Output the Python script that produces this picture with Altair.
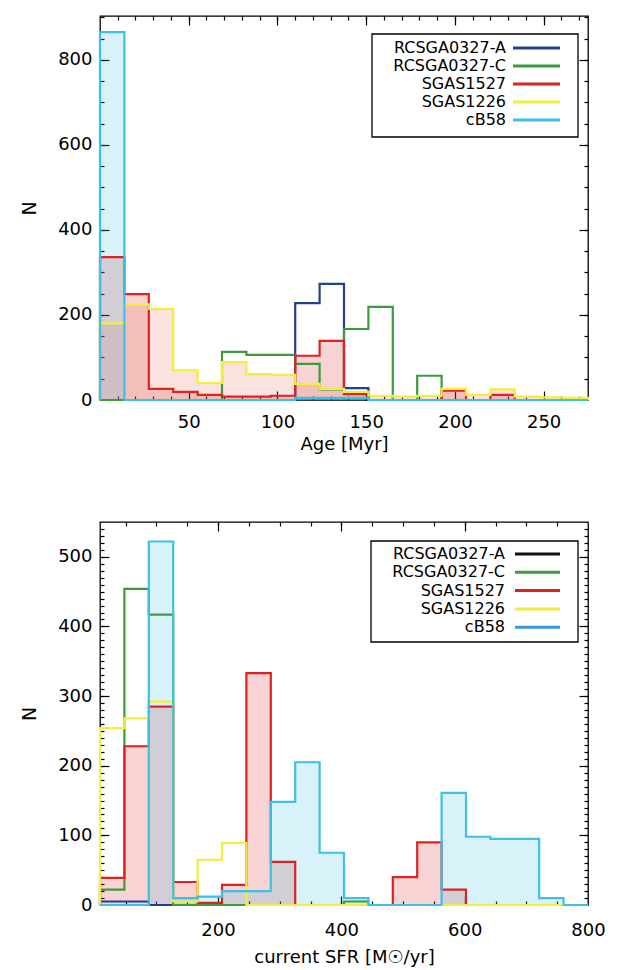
import altair as alt
import pandas as pd

FONT = "DejaVu Sans"

# ---------------- top panel: Age histogram ----------------
age_lo, age_hi, age_nbins = 0.0, 275.0, 20
age_names = ["RCSGA0327-A", "RCSGA0327-C", "SGAS1527", "SGAS1226", "cB58"]
age_colors = ["#23408e", "#3d9a3d", "#dd2222", "#f2ee3a", "#3ec0e6"]
age_hatch = ["#23408e", "#3d9a3d", "#dd2222", "#e87060", "#3ec0e6"]
age_RCSGA0327A = [0, 0, 0, 0, 0, 0, 0, 0, 228, 273, 28, 0, 0, 0, 0, 0, 0, 0, 0, 0]
age_RCSGA0327C = [0, 0, 0, 0, 0, 113, 106, 106, 85, 25, 167, 219, 0, 57, 0, 0, 0, 0, 0, 0]
age_SGAS1527 = [336, 249, 26, 19, 12, 8, 8, 10, 104, 139, 14, 0, 0, 0, 22, 0, 12, 0, 0, 0]
age_SGAS1226 = [180, 225, 214, 70, 40, 89, 61, 59, 38, 26, 19, 10, 8, 10, 26, 12, 25, 8, 6, 5]
age_cB58 = [865, 0, 0, 0, 0, 0, 0, 0, 5, 5, 5, 0, 0, 0, 0, 0, 0, 0, 0, 0]
age_xlabels = [50, 100, 150, 200, 250]
age_ylabels = [0, 200, 400, 600, 800]

# ---------------- bottom panel: current SFR histogram ----------------
sfr_lo, sfr_hi, sfr_nbins = 8.6, 800.0, 20
sfr_names = ["RCSGA0327-A", "RCSGA0327-C", "SGAS1527", "SGAS1226", "cB58"]
sfr_colors = ["#111111", "#3d9a3d", "#dd2222", "#f2ee3a", "#3a98d8"]
sfr_hatch = ["#111111", "#3d9a3d", "#dd2222", "#f2ee3a", "#3a98d8"]
sfr_RCSGA0327A = [5, 5, 0, 0, 0, 0, 0, 0, 0, 0, 0, 0, 0, 0, 0, 0, 0, 0, 0, 0]
sfr_RCSGA0327C = [22, 454, 417, 0, 0, 0, 0, 0, 0, 0, 5, 0, 0, 0, 0, 0, 0, 0, 0, 0]
sfr_SGAS1527 = [39, 228, 285, 33, 3, 29, 333, 62, 0, 0, 0, 0, 40, 90, 22, 0, 0, 0, 0, 0]
sfr_SGAS1226 = [254, 268, 292, 5, 65, 89, 0, 0, 0, 0, 0, 0, 0, 0, 0, 0, 0, 0, 0, 0]
sfr_cB58 = [0, 0, 522, 10, 12, 20, 20, 148, 205, 75, 10, 0, 0, 0, 161, 98, 95, 95, 10, 0]
sfr_xlabels = [200, 400, 600, 800]
sfr_ylabels = [0, 100, 200, 300, 400, 500]


def edges_of(lo, hi, n):
    w = (hi - lo) / n
    return [lo + i * w for i in range(n + 1)]


def panel(lo, hi, nb, names, colors, hatch, series, fills, ydom, xlabels, xmajor, xminor,
          ylabels, ymajor, yminor, xtitle, H, leg, xlab_pad, xtitle_pad):
    edges = edges_of(lo, hi, nb)
    xs = alt.Scale(domain=[lo, hi], nice=False, zero=False)
    ys = alt.Scale(domain=ydom, nice=False, zero=False)
    cs = alt.Scale(domain=names, range=colors)
    hs = alt.Scale(domain=names, range=hatch)

    rect_rows, line_rows = [], []
    for name, vals in zip(names, series):
        if name in fills:
            for i, v in enumerate(vals):
                rect_rows.append({"series": name, "x0": edges[i], "x1": edges[i + 1], "v": v})
        pts = [(edges[0], 0)] + [(edges[i], vals[i]) for i in range(nb)] + \
              [(edges[nb], vals[-1]), (edges[nb], 0)]
        for k, (x, y) in enumerate(pts):
            line_rows.append({"series": name, "x": x, "v": y, "k": k})
    rect_df = pd.DataFrame(rect_rows)
    line_df = pd.DataFrame(line_rows)

    fill_layer = alt.Chart(rect_df).mark_rect(fillOpacity=0.2, strokeWidth=0).encode(
        x=alt.X("x0:Q", scale=xs, axis=None),
        x2="x1:Q",
        y=alt.Y("v:Q", scale=ys, axis=None),
        y2=alt.datum(0),
        fill=alt.Fill("series:N", scale=hs, legend=None),
    )
    line_layer = alt.Chart(line_df).mark_line(interpolate="step-after", strokeWidth=2.2).encode(
        x=alt.X("x:Q", scale=xs, axis=None),
        y=alt.Y("v:Q", scale=ys, axis=None),
        stroke=alt.Stroke("series:N", scale=cs, legend=None),
        order="k:Q",
        detail="series:N",
    )

    dummy = alt.Data(values=[{"a": lo, "b": ydom[0]}])

    def axis_layer(xaxis, yaxis):
        return alt.Chart(dummy).mark_point(opacity=0).encode(
            x=alt.X("a:Q", scale=xs, axis=xaxis),
            y=alt.Y("b:Q", scale=ys, axis=yaxis),
        )

    lab = axis_layer(
        alt.Axis(values=xlabels, ticks=False, domain=False, grid=False, labelFlush=False,
                 labelFont=FONT, labelFontSize=18, labelColor="black", labelPadding=xlab_pad,
                 title=xtitle, titleFont=FONT, titleFontSize=18, titleFontWeight="normal",
                 titleColor="black", titlePadding=xtitle_pad),
        alt.Axis(values=ylabels, ticks=False, domain=False, grid=False, labelFlush=False,
                 labelFont=FONT, labelFontSize=18, labelColor="black", labelPadding=8,
                 title="N", titleFont=FONT, titleFontSize=19, titleFontWeight="normal",
                 titleColor="black", titlePadding=18),
    )

    def tick_axis(orient, vals, size):
        return alt.Axis(orient=orient, values=vals, labels=False, domain=False, grid=False,
                        ticks=True, tickSize=size, offset=-size, tickColor="black",
                        tickWidth=1.2, title=None)

    maj_bl = axis_layer(tick_axis("bottom", xmajor, 9), tick_axis("left", ymajor, 9))
    min_bl = axis_layer(tick_axis("bottom", xminor, 4), tick_axis("left", yminor, 4))
    maj_tr = axis_layer(tick_axis("top", xmajor, 9), tick_axis("right", ymajor, 9))
    min_tr = axis_layer(tick_axis("top", xminor, 4), tick_axis("right", yminor, 4))

    one = alt.Data(values=[{"k": 0}])
    bx0, bx1, by0, by1, tx, lx0, lx1, ry0, rdy = leg
    leg_layers = [
        alt.Chart(one).mark_rect(fill="white", stroke="black", strokeWidth=1.3).encode(
            x=alt.value(bx0), x2=alt.value(bx1), y=alt.value(by0), y2=alt.value(by1))
    ]
    for i, (name, col) in enumerate(zip(names, colors)):
        yy = ry0 + i * rdy
        leg_layers.append(
            alt.Chart(one).mark_text(align="right", baseline="middle", font=FONT,
                                     fontSize=16, color="black").encode(
                x=alt.value(tx), y=alt.value(yy), text=alt.value(name)))
        leg_layers.append(
            alt.Chart(one).mark_rule(strokeWidth=3, color=col).encode(
                x=alt.value(lx0), x2=alt.value(lx1), y=alt.value(yy)))

    ch = alt.layer(fill_layer, line_layer, lab, maj_bl, min_bl, maj_tr, min_tr, *leg_layers)
    ch = ch.resolve_axis(x="independent", y="independent").properties(width=488, height=H)
    return ch


top = panel(age_lo, age_hi, age_nbins, age_names, age_colors, age_hatch,
            [age_RCSGA0327A, age_RCSGA0327C, age_SGAS1527, age_SGAS1226, age_cB58],
            ["SGAS1527", "SGAS1226", "cB58"], [0, 903],
            age_xlabels, [50, 100, 150, 200, 250], list(range(10, 275, 10)),
            age_ylabels, [200, 400, 600, 800], list(range(50, 901, 50)),
            "Age [Myr]", 384,
            (272, 478, 18, 121, 406, 413, 460, 32, 18), 13, 4)

bottom = panel(sfr_lo, sfr_hi, sfr_nbins, sfr_names, sfr_colors, sfr_hatch,
               [sfr_RCSGA0327A, sfr_RCSGA0327C, sfr_SGAS1527, sfr_SGAS1226, sfr_cB58],
               ["SGAS1527", "cB58"], [0, 550],
               sfr_xlabels, [200, 400, 600], list(range(50, 800, 50)),
               sfr_ylabels, [100, 200, 300, 400, 500], list(range(10, 550, 10)),
               "current SFR [M☉/yr]", 383,
               (271, 478, 19, 120, 405, 415, 460, 32, 18.3), 16, 9)

chart = alt.vconcat(top, bottom, spacing=66).properties(
    padding={"left": 19, "top": 14, "right": 5, "bottom": 2}
).configure_view(stroke="black", strokeWidth=1.3)

chart.save("out.html", embed_options={"renderer": "svg", "actions": False})
